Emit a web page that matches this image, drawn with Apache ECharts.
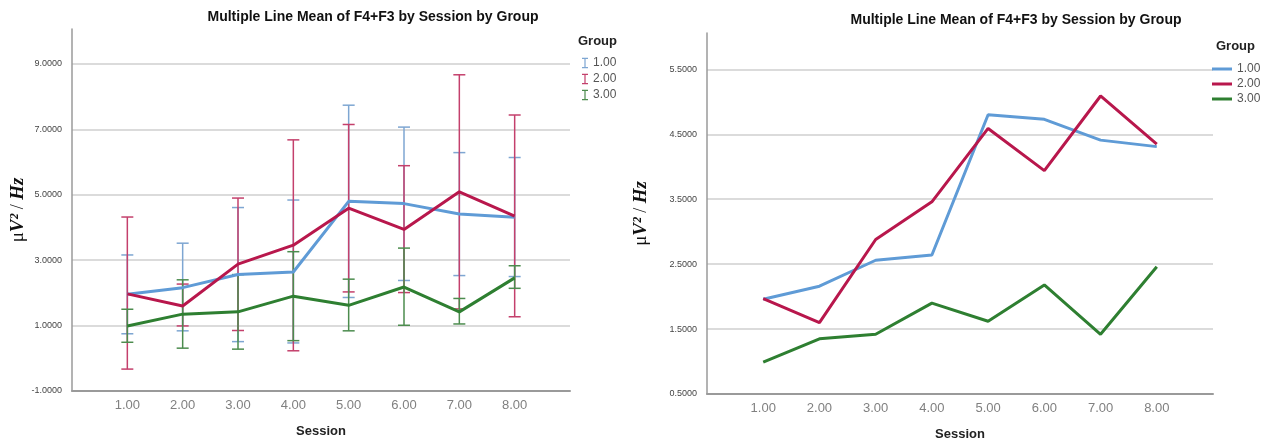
<!DOCTYPE html>
<html>
<head>
<meta charset="utf-8">
<script src="https://cdn.jsdelivr.net/npm/echarts@6/dist/echarts.min.js"></script>
<style>
  html, body { margin: 0; padding: 0; background: #fff; }
  #main { width: 1275px; height: 446px; }
</style>
</head>
<body>
<div id="main"></div>
<script>
var chart = echarts.init(document.getElementById('main'));

// sessions and group names
var sessions = [1, 2, 3, 4, 5, 6, 7, 8];
var groups = ['1.00', '2.00', '3.00'];

// mean of F4+F3 per session, one array per group
var mean1 = [1.96, 2.16, 2.56, 2.64, 4.80, 4.73, 4.41, 4.31];
var mean2 = [1.97, 1.60, 2.88, 3.46, 4.59, 3.94, 5.09, 4.35];
var mean3 = [0.99, 1.35, 1.42, 1.90, 1.62, 2.18, 1.42, 2.46];

// error bar ends (left chart)
var low1  = [0.75, 0.84, 0.51, 0.47, 1.86, 2.38, 2.53, 2.50];
var high1 = [3.16, 3.52, 4.61, 4.84, 7.74, 7.07, 6.29, 6.14];
var low2  = [-0.33, 0.99, 0.85, 0.23, 2.03, 2.01, 1.51, 1.27];
var high2 = [4.32, 2.27, 4.90, 6.68, 7.15, 5.89, 8.67, 7.44];
var low3  = [0.49, 0.31, 0.28, 0.54, 0.84, 1.01, 1.05, 2.14];
var high3 = [1.50, 2.40, 2.56, 3.26, 2.42, 3.37, 1.83, 2.83];

// tick labels
var yTicksLeft = [-1, 1, 3, 5, 7, 9];
var yTicksRight = [0.5, 1.5, 2.5, 3.5, 4.5, 5.5];

var lineColors = ['#5f9bd6', '#b8174c', '#2e7f31'];
var barColors = ['#7ea6d2', '#c4406c', '#4c8c4e'];

var means = [mean1, mean2, mean3];
var lows = [low1, low2, low3];
var highs = [high1, high2, high3];

function pairs(ys) {
    return sessions.map(function (s, i) { return [s, ys[i]]; });
}

function renderErrorBar(params, api) {
    var x = api.value(0);
    var lo = api.coord([x, api.value(1)]);
    var hi = api.coord([x, api.value(2)]);
    var half = 6;
    var st = { stroke: api.visual('color'), lineWidth: 1.5 };
    return {
        type: 'group',
        children: [
            { type: 'line', shape: { x1: hi[0] - half, y1: hi[1], x2: hi[0] + half, y2: hi[1] }, style: st },
            { type: 'line', shape: { x1: hi[0], y1: hi[1], x2: lo[0], y2: lo[1] }, style: st },
            { type: 'line', shape: { x1: lo[0] - half, y1: lo[1], x2: lo[0] + half, y2: lo[1] }, style: st }
        ]
    };
}

var iconI = 'path://M0,0h7v1.4h-2.8v9.2h2.8v1.4h-7v-1.4h2.8v-9.2h-2.8z';

var series = [];
// left: error bars then lines
groups.forEach(function (g, k) {
    series.push({
        name: g,
        type: 'custom',
        xAxisIndex: 0,
        yAxisIndex: 0,
        renderItem: renderErrorBar,
        itemStyle: { color: barColors[k] },
        encode: { x: 0, y: [1, 2] },
        data: sessions.map(function (s, i) { return [s, lows[k][i], highs[k][i]]; }),
        z: 2
    });
});
groups.forEach(function (g, k) {
    series.push({
        name: g,
        type: 'line',
        xAxisIndex: 0,
        yAxisIndex: 0,
        showSymbol: false,
        lineStyle: { color: lineColors[k], width: 3 },
        itemStyle: { color: lineColors[k] },
        data: pairs(means[k]),
        z: 3
    });
});
// right: lines only
groups.forEach(function (g, k) {
    series.push({
        name: g,
        type: 'line',
        xAxisIndex: 1,
        yAxisIndex: 1,
        showSymbol: false,
        lineStyle: { color: lineColors[k], width: 3 },
        itemStyle: { color: lineColors[k] },
        data: pairs(means[k]),
        z: 3
    });
});

var yName = '{m|\u03bc}{v|V\u00b2}{s| / }{h|Hz}';
var yNameStyle = {
    rich: {
        m: { fontFamily: 'Liberation Serif', fontSize: 19, color: '#111' },
        v: { fontFamily: 'Liberation Serif', fontSize: 19, fontStyle: 'italic', fontWeight: 'bold', color: '#111' },
        s: { fontFamily: 'Liberation Serif', fontSize: 18, color: '#111' },
        h: { fontFamily: 'Liberation Serif', fontSize: 19, fontStyle: 'italic', fontWeight: 'bold', color: '#111' }
    }
};

function xAxisFor(idx) {
    return {
        type: 'value',
        gridIndex: idx,
        min: 0,
        max: 9,
        name: 'Session',
        nameLocation: 'middle',
        nameGap: 34,
        nameTextStyle: { fontFamily: 'Liberation Sans', fontSize: 13, fontWeight: 'bold', color: '#222' },
        axisLine: { onZero: false, lineStyle: { color: '#9a9a9a', width: 2 } },
        axisTick: { show: false, customValues: sessions },
        splitLine: { show: false },
        axisLabel: {
            customValues: sessions,
            margin: 8,
            fontFamily: 'Liberation Sans',
            fontSize: 13,
            color: '#808080',
            formatter: function (v) { return v.toFixed(2); }
        }
    };
}

function yAxisFor(idx, min, max, ticks, gap) {
    return {
        type: 'value',
        gridIndex: idx,
        min: min,
        max: max,
        name: yName,
        nameLocation: 'middle',
        nameGap: gap,
        nameTextStyle: yNameStyle,
        axisLine: { show: true, onZero: false, lineStyle: { color: '#9a9a9a', width: 1.5 } },
        axisTick: { show: false, customValues: ticks },
        splitLine: { show: true, lineStyle: { color: '#cfcfcf', width: 1.5 } },
        axisLabel: {
            customValues: ticks,
            margin: 10,
            fontFamily: 'Liberation Sans',
            fontSize: 9,
            color: '#444',
            formatter: function (v) { return v.toFixed(4); }
        }
    };
}

var titleFont = { fontFamily: 'Liberation Sans', fontSize: 14, fontWeight: 'bold', color: '#111' };
var groupFont = { fontFamily: 'Liberation Sans', fontSize: 13, fontWeight: 'bold', color: '#222' };
var legendFont = { fontFamily: 'Liberation Sans', fontSize: 12, color: '#555' };

chart.setOption({
    animation: false,
    backgroundColor: '#fff',
    title: [
        { text: 'Multiple Line Mean of F4+F3 by Session by Group', left: 373, top: 10, textAlign: 'center', textStyle: titleFont, padding: 0 },
        { text: 'Multiple Line Mean of F4+F3 by Session by Group', left: 1016, top: 13, textAlign: 'center', textStyle: titleFont, padding: 0 },
        { text: 'Group', left: 578, top: 35, textStyle: groupFont, padding: 0 },
        { text: 'Group', left: 1216, top: 40, textStyle: groupFont, padding: 0 }
    ],
    legend: [
        {
            orient: 'vertical',
            left: 582,
            top: 57,
            itemWidth: 6,
            itemHeight: 11,
            itemGap: 4,
            padding: 0,
            textStyle: legendFont,
            data: groups.map(function (g, k) {
                return { name: g, icon: iconI, itemStyle: { color: barColors[k] } };
            })
        },
        {
            orient: 'vertical',
            left: 1212,
            top: 63,
            itemWidth: 20,
            itemHeight: 3,
            itemGap: 3,
            padding: 0,
            textStyle: legendFont,
            data: groups.map(function (g, k) {
                return { name: g, icon: 'rect', itemStyle: { color: lineColors[k] } };
            })
        }
    ],
    grid: [
        { left: 72, top: 29, width: 498, height: 362 },
        { left: 707, top: 33, width: 506, height: 363 }
    ],
    xAxis: [xAxisFor(0), xAxisFor(1)],
    yAxis: [
        yAxisFor(0, -1, 10.07, yTicksLeft, 42),
        yAxisFor(1, 0.5, 6.06, yTicksRight, 56)
    ],
    series: series
});
</script>
</body>
</html>
